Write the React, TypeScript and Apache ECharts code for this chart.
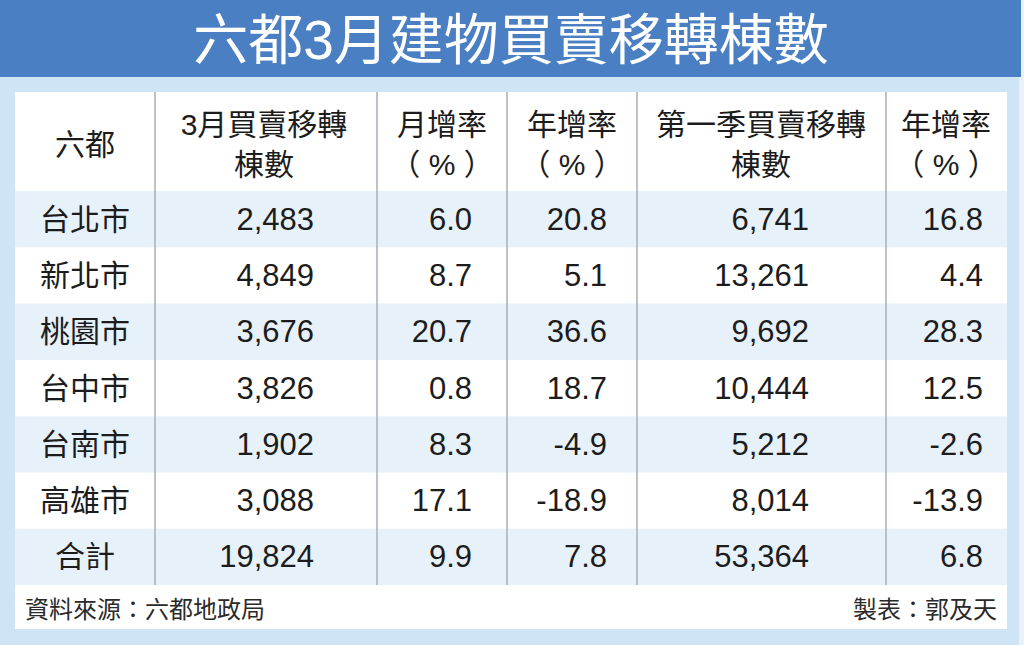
import React, { useEffect, useRef } from "react";
import * as echarts from "echarts";

const title = "六都3月建物買賣移轉棟數";
const headers: string[][] = [
  ["六都"],
  ["3月買賣移轉", "棟數"],
  ["月增率", "（ % ）"],
  ["年增率", "（ % ）"],
  ["第一季買賣移轉", "棟數"],
  ["年增率", "（ % ）"],
];
const cities = ["台北市", "新北市", "桃園市", "台中市", "台南市", "高雄市", "合計"];
const marchTransfers = [2483, 4849, 3676, 3826, 1902, 3088, 19824];
const monthGrowth = [6.0, 8.7, 20.7, 0.8, 8.3, 17.1, 9.9];
const yearGrowth = [20.8, 5.1, 36.6, 18.7, -4.9, -18.9, 7.8];
const q1Transfers = [6741, 13261, 9692, 10444, 5212, 8014, 53364];
const q1YearGrowth = [16.8, 4.4, 28.3, 12.5, -2.6, -13.9, 6.8];
const sourceNote = "資料來源：六都地政局";
const authorNote = "製表：郭及天";

const FONT = '"Liberation Sans", "Noto Sans CJK TC", sans-serif';
const TEXT = "#1c1c1c";

const fmtInt = (v: number) => v.toString().replace(/\B(?=(\d{3})+(?!\d))/g, ",");
const fmtPct = (v: number) => v.toFixed(1);

function buildGraphics() {
  const els: any[] = [];
  // backgrounds
  els.push({ type: "rect", shape: { x: 0, y: 0, width: 1024, height: 645 }, style: { fill: "#e9f2f9" } });
  els.push({ type: "rect", shape: { x: 0, y: 76, width: 1019, height: 569 }, style: { fill: "#cfe5f6" } });
  els.push({ type: "rect", shape: { x: 0, y: 0, width: 1021, height: 77 }, style: { fill: "#4a80c3" } });
  els.push({
    type: "text",
    style: { text: title, x: 511, y: 40, fill: "#ffffff", font: `normal 55px ${FONT}`, textAlign: "center", textVerticalAlign: "middle" },
  });
  els.push({ type: "rect", shape: { x: 15, y: 92, width: 992, height: 537 }, style: { fill: "#ffffff" } });

  const tableTop = 92;
  const headerBottom = 191;
  const rowH = 56.3;
  const left = 15;
  const right = 1007;
  const vlines = [155, 377, 507, 637, 886];
  const colCenters = [85, 264, 442, 572, 761, 946];

  // row banding
  cities.forEach((_, i) => {
    if (i % 2 === 0) {
      els.push({
        type: "rect",
        shape: { x: left, y: headerBottom + i * rowH, width: right - left, height: rowH },
        style: { fill: "#e7f1fa" },
      });
    }
  });
  const tableBottom = headerBottom + cities.length * rowH;

  // vertical lines
  vlines.forEach((x) => {
    els.push({
      type: "line",
      shape: { x1: x, y1: tableTop, x2: x, y2: tableBottom },
      style: { stroke: "#a7aeb6", lineWidth: 1.5 },
    });
  });

  // headers
  headers.forEach((lines, c) => {
    const ys = lines.length === 1 ? [144] : [124, 164];
    lines.forEach((t, k) => {
      els.push({
        type: "text",
        style: { text: t, x: colCenters[c], y: ys[k], fill: TEXT, font: `normal 30px ${FONT}`, textAlign: "center", textVerticalAlign: "middle" },
      });
    });
  });

  // body
  const rightEdges = [314, 472, 607, 809, 983];
  cities.forEach((city, i) => {
    const cy = headerBottom + i * rowH + rowH / 2;
    els.push({
      type: "text",
      style: { text: city, x: colCenters[0], y: cy, fill: TEXT, font: `normal 30px ${FONT}`, textAlign: "center", textVerticalAlign: "middle" },
    });
    const vals = [
      fmtInt(marchTransfers[i]),
      fmtPct(monthGrowth[i]),
      fmtPct(yearGrowth[i]),
      fmtInt(q1Transfers[i]),
      fmtPct(q1YearGrowth[i]),
    ];
    vals.forEach((v, k) => {
      els.push({
        type: "text",
        style: { text: v, x: rightEdges[k], y: cy, fill: TEXT, font: `normal 31px ${FONT}`, textAlign: "right", textVerticalAlign: "middle" },
      });
    });
  });

  // footer
  els.push({
    type: "text",
    style: { text: sourceNote, x: 25, y: 609, fill: "#2a2a2a", font: `normal 24px ${FONT}`, textAlign: "left", textVerticalAlign: "middle" },
  });
  els.push({
    type: "text",
    style: { text: authorNote, x: 997, y: 609, fill: "#2a2a2a", font: `normal 24px ${FONT}`, textAlign: "right", textVerticalAlign: "middle" },
  });
  return els;
}

export default function App() {
  const ref = useRef<HTMLDivElement>(null);
  useEffect(() => {
    if (!ref.current) return;
    const chart = echarts.init(ref.current, undefined, { renderer: "svg" });
    chart.setOption({
      animation: false,
      graphic: { elements: buildGraphics() },
    });
    return () => chart.dispose();
  }, []);
  return (
    <div
      ref={ref}
      style={{ position: "fixed", left: 0, top: 0, width: 1024, height: 645, background: "#ffffff" }}
    />
  );
}
